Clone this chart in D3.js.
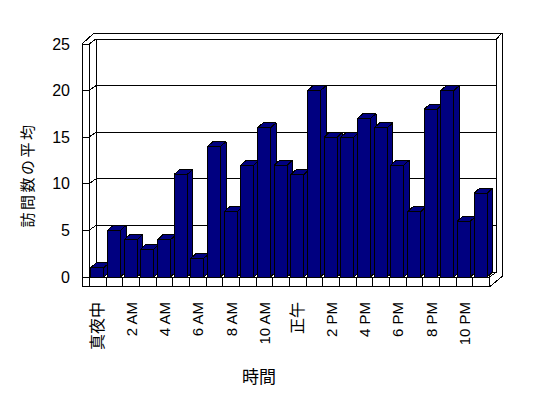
<!DOCTYPE html>
<html><head><meta charset="utf-8">
<script src="https://cdn.jsdelivr.net/npm/d3@7"></script>
<style>html,body{margin:0;padding:0;background:#fff;}svg{display:block;}</style>
</head><body>
<svg id="chart" width="548" height="398"></svg>
<script>
const hours = ["真夜中","1 AM","2 AM","3 AM","4 AM","5 AM","6 AM","7 AM","8 AM","9 AM","10 AM","11 AM",
  "正午","1 PM","2 PM","3 PM","4 PM","5 PM","6 PM","7 PM","8 PM","9 PM","10 PM","11 PM"];
const visits = [1,5,4,3,4,11,2,14,7,12,16,12,11,20,15,15,17,16,12,7,18,20,6,9];
const shownLabels = ["真夜中","2 AM","4 AM","6 AM","8 AM","10 AM","正午","2 PM","4 PM","6 PM","8 PM","10 PM"];
const yTicks = [0,5,10,15,20,25];
const yTitle = "訪問数の平均";
const xTitle = "時間";

const svg = d3.select("#chart");
const x = d3.scaleBand().domain(hours).range([89.5, 489.5]).paddingInner(0).paddingOuter(0);
const y = d3.scaleLinear().domain([0, 25]).range([277, 44]);
const D = [7, -5];      // floor depth offset
const B = [5.5, -5];    // bar depth offset
const wallL = 82, frontL = 89, frontR = 489.5, floorB = 286, backR = frontR + D[0], outerR = 502, outerT = 33;
const line = d3.line();
const stroke = "#000";

// outer silhouette
svg.append("path")
  .attr("d", line([[wallL, y(25)], [94, outerT], [outerR, outerT], [outerR, 276.5], [frontR + 1, floorB], [wallL, floorB]]) + "Z")
  .attr("fill", "#fff").attr("stroke", stroke).attr("stroke-width", 1).attr("shape-rendering", "crispEdges");

const g = svg.append("g").attr("fill", "none").attr("stroke", stroke).attr("stroke-width", 1).attr("shape-rendering", "crispEdges");

// back plane edges
g.append("path").attr("d", line([[frontL + D[0], y(0) + D[1]], [frontL + D[0], y(25) + D[1]], [backR, y(25) + D[1]], [backR, y(0) + D[1]]]));
g.append("path").attr("d", line([[backR, y(25) + D[1]], [outerR, outerT]]));
// left wall
g.append("path").attr("d", line([[frontL, y(25)], [frontL, y(0)]]));
g.append("path").attr("d", line([[wallL, y(25)], [frontL, y(25)], [frontL + D[0], y(25) + D[1]]]));
// gridlines on back + left wall diagonals + ticks
yTicks.forEach(v => {
  g.append("path").attr("d", line([[frontL + D[0], y(v) + D[1]], [backR, y(v) + D[1]]]));
  g.append("path").attr("d", line([[wallL, y(v)], [frontL, y(v)], [frontL + D[0], y(v) + D[1]]]));
});
// floor
g.append("path").attr("d", line([[frontL, y(0)], [frontR, y(0)], [frontR + D[0], y(0) + D[1]]]));
g.append("path").attr("d", line([[frontR, y(0)], [frontR, floorB]]));
hours.forEach(h => {
  g.append("path").attr("d", line([[x(h), y(0)], [x(h), floorB]]));
});

// bars
const bw = x.bandwidth();
const bars = svg.append("g").attr("fill", "#000080").attr("stroke", "#000").attr("stroke-width", 1)
  .attr("stroke-linejoin", "round").attr("shape-rendering", "crispEdges");
hours.forEach((h, i) => {
  const x0 = x(h) + bw * 0.08, x1 = x(h) + bw * 0.86;
  const yt = y(visits[i]), yb = y(0);
  const bg = bars.append("g");
  bg.append("path").attr("d", line([[x1, yb], [x1 + B[0], yb + B[1]], [x1 + B[0], yt + B[1]], [x1, yt]]) + "Z");
  bg.append("path").attr("d", line([[x0, yt], [x0 + B[0], yt + B[1]], [x1 + B[0], yt + B[1]], [x1, yt]]) + "Z");
  bg.append("path").attr("d", line([[x0, yb], [x0, yt], [x1, yt], [x1, yb]]) + "Z");
});

// y tick labels
svg.append("g").selectAll("text").data(yTicks).join("text")
  .attr("x", 70).attr("y", d => y(d))
  .attr("text-anchor", "end").attr("dominant-baseline", "central")
  .attr("font-family", "'Liberation Sans', Arial, sans-serif").attr("font-size", 16)
  .text(d => d);

// x tick labels
svg.append("g").selectAll("text").data(shownLabels).join("text")
  .attr("transform", d => `translate(${x(d) + bw / 2},302) rotate(-90)`)
  .attr("text-anchor", "end").attr("dominant-baseline", "central")
  .attr("font-family", "'Liberation Sans', 'Noto Sans CJK JP', sans-serif")
  .attr("font-size", d => /[^\x00-\x7f]/.test(d) ? 16 : 15)
  .text(d => d);

// axis titles
svg.append("text")
  .attr("transform", "translate(26,175) rotate(-90)")
  .attr("text-anchor", "middle").attr("dominant-baseline", "central")
  .attr("font-family", "'Noto Sans CJK JP', sans-serif").attr("font-size", 15)
  .attr("letter-spacing", 2.5)
  .text(yTitle);
svg.append("text")
  .attr("x", 259).attr("y", 375)
  .attr("text-anchor", "middle").attr("dominant-baseline", "central")
  .attr("font-family", "'Noto Sans CJK JP', sans-serif").attr("font-size", 17)
  .text(xTitle);
</script>
</body></html>
